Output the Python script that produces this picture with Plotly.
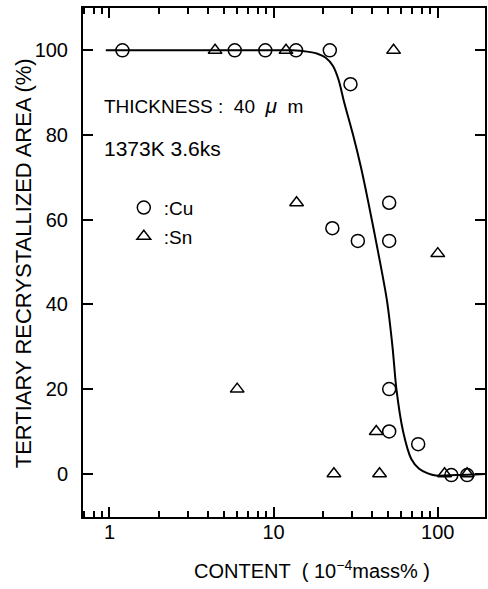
import plotly.graph_objects as go
import math

# ---- data ----
cu_content = [1.2, 5.8, 8.9, 13.7, 22, 29.4, 22.8, 32.6, 50.6, 50.6, 50.6, 50.6, 76, 121, 151]
cu_area = [100, 100, 100, 100, 100, 92, 58, 55, 64, 55, 20, 10, 7, -0.3, -0.3]

sn_content = [4.4, 11.9, 53.8, 13.8, 6.0, 23.3, 42.2, 44.2, 100, 110, 151]
sn_area = [100, 100, 100, 64, 20, 0, 10, 0, 52, 0, 0]

curve_content = [0.95, 5, 13, 16, 18.5, 20.7, 23, 24.9, 26.8, 30.5, 34, 37.5, 43, 49, 53, 56, 61.5, 69, 77, 87, 97, 130, 200]
curve_area = [100, 100, 100, 99.7, 99.2, 98.3, 96.3, 93, 88, 80, 72.5, 64.7, 53, 41, 30, 20, 10, 3.5, 1.2, 0.1, -0.4, -0.3, 0]

y_ticks = [0, 20, 40, 60, 80, 100]
x_ticks = [1, 10, 100]

FONT = "Liberation Sans, Arial, Helvetica, sans-serif"

fig = go.Figure()

fig.add_trace(go.Scatter(
    x=curve_content, y=curve_area, mode="lines",
    line=dict(color="black", width=2, shape="spline", smoothing=0.8),
    showlegend=False, hoverinfo="skip"))

fig.add_trace(go.Scatter(
    x=cu_content, y=cu_area, mode="markers", name=":Cu", legendgroup="cu",
    marker=dict(symbol="circle-open", size=13, color="black", line=dict(width=1.5, color="black"))))

fig.add_trace(go.Scatter(
    x=sn_content, y=sn_area, mode="markers", name=":Sn", legendgroup="sn",
    marker=dict(symbol="triangle-up-open", size=12, color="black", line=dict(width=1.5, color="black"))))

axis_common = dict(
    showline=True, linecolor="black", linewidth=2, mirror="allticks",
    ticks="inside", tickcolor="black", tickwidth=1.5, ticklen=10,
    showgrid=False, zeroline=False,
    tickfont=dict(family=FONT, size=20, color="black"),
)

fig.update_xaxes(
    type="log", range=[math.log10(0.69), math.log10(194)],
    tickvals=x_ticks, ticktext=[str(v) for v in x_ticks],
    ticklabelstandoff=-4,
    minor=dict(ticks="inside", ticklen=6, tickwidth=1.5, tickcolor="black", dtick="D1", showgrid=False),
    **axis_common)

fig.update_yaxes(
    range=[-10.2, 110], tickvals=y_ticks,
    ticklabelstandoff=9,
    **axis_common)

fig.add_annotation(text="THICKNESS&nbsp;:&nbsp;&nbsp;40&nbsp;&nbsp;<i><span style='font-size:21px'>μ</span></i>&nbsp;&nbsp;m",
                   xref="paper", yref="paper",
                   x=0.047, y=0.809, xanchor="left", yanchor="middle", showarrow=False,
                   font=dict(family=FONT, size=19, color="black"))
fig.add_annotation(text="1373K 3.6ks", xref="paper", yref="paper",
                   x=0.047, y=0.724, xanchor="left", yanchor="middle", showarrow=False,
                   font=dict(family=FONT, size=21, color="black"))
fig.add_annotation(text="CONTENT&nbsp;&nbsp;( 10<sup>−4</sup>mass% )", xref="paper", yref="paper",
                   x=0.569, y=-0.104, xanchor="center", yanchor="middle", showarrow=False,
                   font=dict(family=FONT, size=20, color="black"))
fig.add_annotation(text="TERTIARY RECRYSTALLIZED AREA (%)", xref="paper", yref="paper",
                   x=-0.1485, y=0.499, xanchor="center", yanchor="middle", showarrow=False,
                   textangle=-90,
                   font=dict(family=FONT, size=22, color="black"))

fig.update_layout(
    width=488, height=589,
    margin=dict(l=83, r=1, t=8, b=72),
    paper_bgcolor="white", plot_bgcolor="white",
    legend=dict(x=0.1015, y=0.645, xanchor="left", yanchor="top",
                bgcolor="rgba(0,0,0,0)", tracegroupgap=1,
                font=dict(family=FONT, size=19, color="black")),
    showlegend=True,
)

fig.write_html("out.html", config={"displayModeBar": False},
               post_script="document.body.style.margin='0px';")
